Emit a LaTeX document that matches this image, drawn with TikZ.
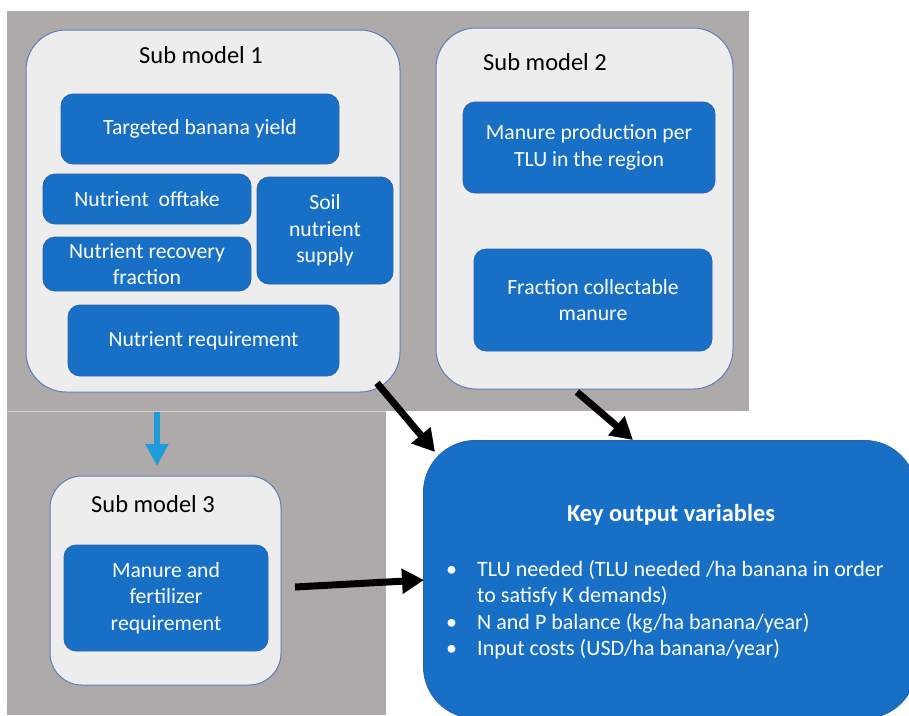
\documentclass[tikz,border=0pt]{standalone}
\usepackage{fontspec}
\setmainfont{Carlito}
\usetikzlibrary{arrows.meta}
\definecolor{bggray}{HTML}{AEAAAA}
\definecolor{bgline}{HTML}{D2CFCF}
\definecolor{panel}{HTML}{EDEDED}
\definecolor{panelline}{HTML}{5B7FB8}
\definecolor{boxblue}{HTML}{1770C6}
\definecolor{boxline}{HTML}{2F62A8}
\definecolor{arrowblue}{HTML}{1E9BD8}
\tikzset{
  panelbox/.style={draw=panelline, fill=panel, line width=1pt, rounded corners=40pt, inner sep=0pt},
  bluebox/.style={draw=boxline, fill=boxblue, line width=0.8pt, rounded corners=12pt, text=white, align=center, font=\fontsize{21.7}{26.5}\selectfont, inner sep=0pt},
  paneltitle/.style={font=\fontsize{24.5}{29}\selectfont, text=black, inner sep=0pt},
  blackarrow/.style={draw=black, line width=7pt, -{Triangle[length=22pt,width=24pt]}},
  bluearrow/.style={draw=arrowblue, line width=6pt, -{Triangle[length=22pt,width=22pt]}},
}
\begin{document}
\begin{tikzpicture}[x=1pt,y=-1pt]
\path[use as bounding box, clip] (0,0) rectangle (909,715);
\fill[white] (0,0) rectangle (909,715);
% gray backgrounds
\fill[bggray] (7,11) rectangle (749,411);
\fill[bggray] (7,412) rectangle (386,715);
\draw[bgline, line width=1pt] (7,411.5) -- (386,411.5);
% Sub model 1
\node[panelbox, minimum width=374, minimum height=362] (sm1) at (213,211) {};
\node[paneltitle] (sm1t) at (201,55) {Sub model 1};
\node[bluebox, minimum width=278, minimum height=70] (tby) at (200,129) {Targeted banana yield};
\node[bluebox, minimum width=208, minimum height=50] (noff) at (147,199) {Nutrient\ \ offtake};
\node[bluebox, minimum width=208, minimum height=54] (nrec) at (147,264) {Nutrient recovery\\fraction};
\node[bluebox, minimum width=136, minimum height=107] (soil) at (325,230.5) {Soil\\nutrient\\supply};
\node[bluebox, minimum width=271, minimum height=71] (nreq) at (203.5,340.5) {Nutrient requirement};
% Sub model 2
\node[panelbox, minimum width=297, minimum height=361] (sm2) at (584.5,208.5) {};
\node[paneltitle] (sm2t) at (545,62) {Sub model 2};
\node[bluebox, minimum width=252, minimum height=91] (mprod) at (589,147.5) {Manure production per\\TLU in the region};
\node[bluebox, minimum width=238, minimum height=102] (fcol) at (593,300) {Fraction collectable\\manure};
% Sub model 3
\node[panelbox, rounded corners=32pt, minimum width=231, minimum height=209] (sm3) at (165.5,580.5) {};
\node[paneltitle] (sm3t) at (153,504) {Sub model 3};
\node[bluebox, minimum width=204, minimum height=106] (mfr) at (166,598) {Manure and\\fertilizer\\requirement};
% Key output
\node[bluebox, rounded corners=52pt, anchor=north west, minimum width=493, minimum height=278] (key) at (423,440) {};
\node[font=\bfseries\fontsize{24.4}{29}\selectfont, text=white, inner sep=0pt] (keyt) at (671,515) {Key output variables};
\node[anchor=north west, inner sep=0pt, text=white, font=\fontsize{22}{26.5}\selectfont] (keyl) at (446,557.5)
{\begin{tabular}{@{}p{31pt}@{}l@{}}
\textbullet & TLU needed (TLU needed /ha banana in order\\
 & to satisfy K demands)\\
\textbullet & N and P balance (kg/ha banana/year)\\
\textbullet & Input costs (USD/ha banana/year)
\end{tabular}};
% arrows
\coordinate (b1s) at (157,412);
\coordinate (b1e) at (157,466);
\draw[bluearrow] (b1s) -- (b1e);
\coordinate (a1s) at (377,383);
\coordinate (a1e) at (435,452);
\draw[blackarrow] (a1s) -- (a1e);
\coordinate (a2s) at (577,392);
\coordinate (a2e) at (633,440);
\draw[blackarrow] (a2s) -- (a2e);
\coordinate (a3s) at (295,587);
\coordinate (a3e) at (424,580);
\draw[blackarrow] (a3s) -- (a3e);
\end{tikzpicture}
\end{document}
